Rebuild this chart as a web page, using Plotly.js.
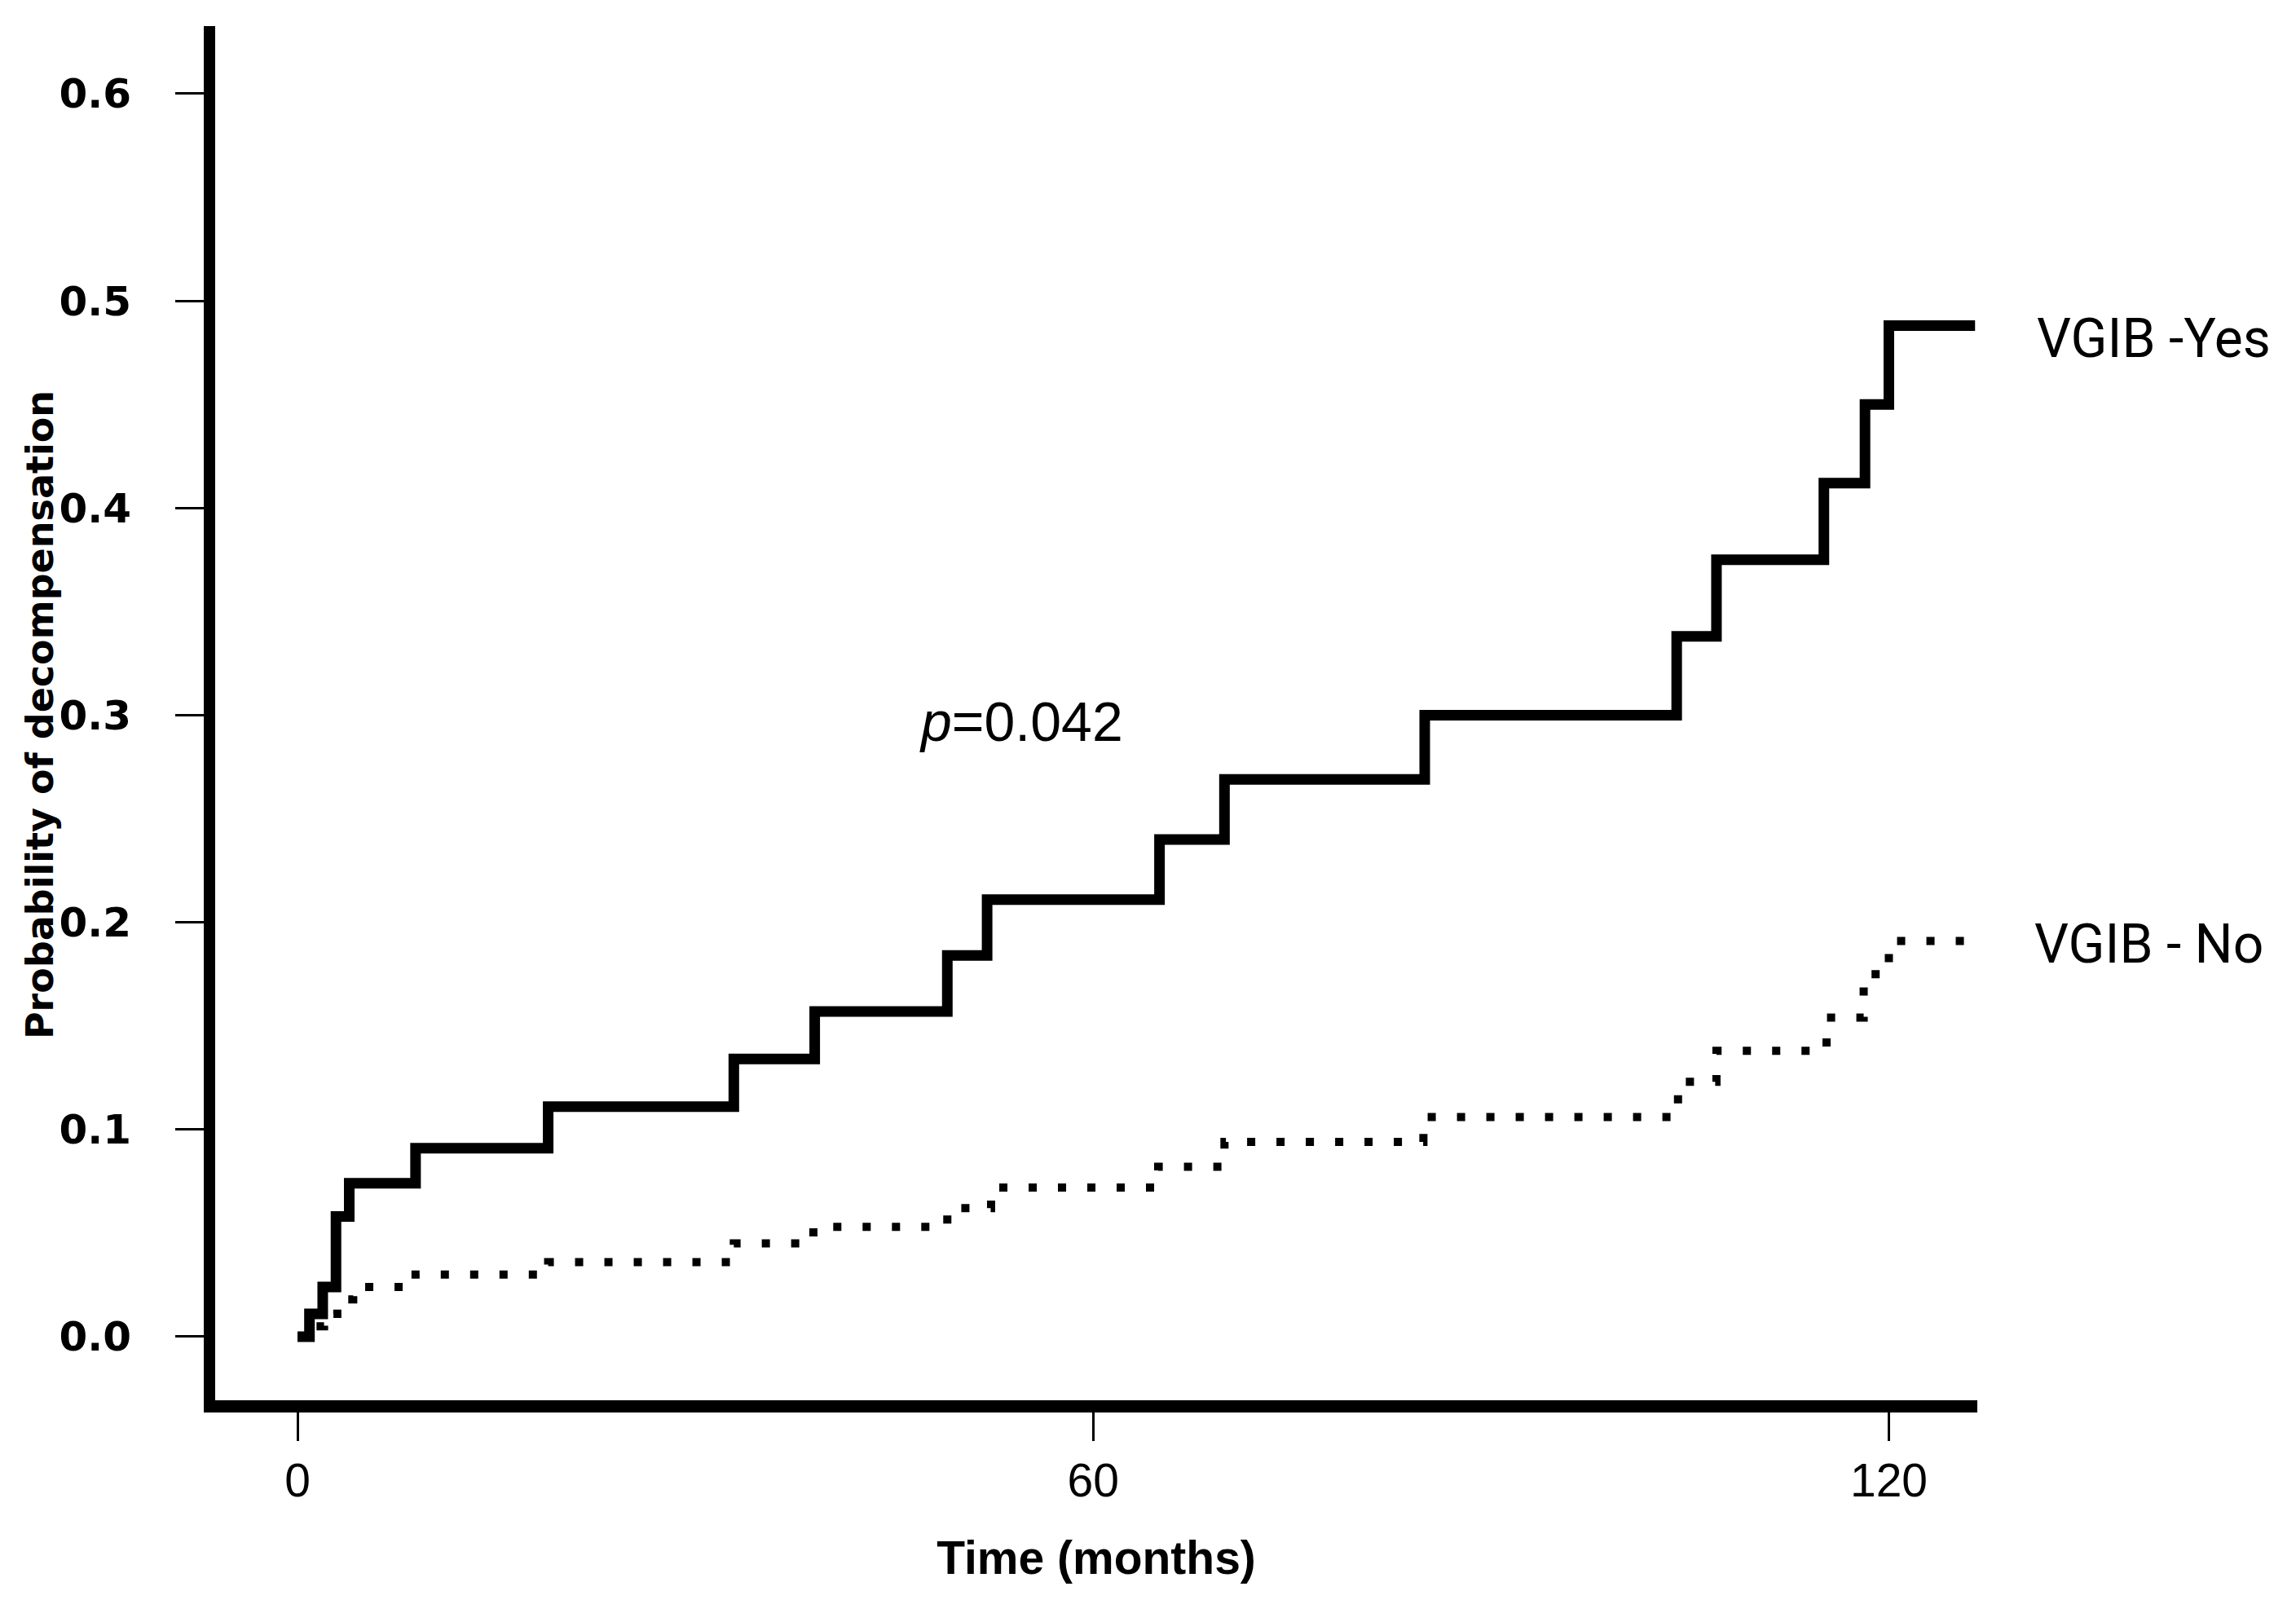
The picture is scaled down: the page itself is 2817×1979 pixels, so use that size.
<!DOCTYPE html>
<html>
<head>
<meta charset="utf-8">
<script src="https://cdn.plot.ly/plotly-3.0.1.min.js"></script>
<style>html,body{margin:0;padding:0;background:#fff;}#chart{width:2817px;height:1979px;}</style>
</head>
<body>
<div id="chart"></div>
<script>
// Kaplan-Meier style cumulative probability of decompensation (months)
const timeYes = [0, 0.9, 1.9, 2.9, 3.9, 8.9, 18.9, 32.9, 39.0, 49.0, 52.0, 65.0, 69.9, 85.0, 104.0, 107.0, 115.1, 118.2, 120.0, 126.5];
const probYes = [0, 0.011, 0.024, 0.058, 0.074, 0.091, 0.111, 0.134, 0.157, 0.184, 0.211, 0.240, 0.269, 0.300, 0.338, 0.375, 0.412, 0.450, 0.488, 0.488];

const timeNo = [0, 1.0, 2.0, 3.0, 4.2, 8.9, 18.9, 32.9, 38.9, 49.0, 52.3, 64.9, 69.9, 84.9, 104.1, 107.0, 115.3, 118.1, 120.0, 126.3];
const probNo = [0, 0.005, 0.011, 0.018, 0.024, 0.030, 0.036, 0.045, 0.053, 0.062, 0.072, 0.082, 0.094, 0.106, 0.123, 0.138, 0.154, 0.175, 0.191, 0.191];

const xTickVals = [0, 60, 120];
const xTickText = ['0', '60', '120'];
const yTickVals = [0, 0.1, 0.2, 0.3, 0.4, 0.5, 0.6];
const yTickText = ['0.0', '0.1', '0.2', '0.3', '0.4', '0.5', '0.6'];

const seriesNames = ['VGIB -Yes', 'VGIB - No'];
const pValueText = '<i>p</i>=0.042';
const yTitleText = 'Probability of decompensation';
const xTitleText = 'Time (months)';

const traces = [
  {
    x: timeYes, y: probYes, name: seriesNames[0], type: 'scatter', mode: 'lines',
    line: {shape: 'hv', color: '#000000', width: 13}
  },
  {
    x: timeNo, y: probNo, name: seriesNames[1], type: 'scatter', mode: 'lines',
    line: {shape: 'hv', color: '#000000', width: 10, dash: '10px,26px'}
  }
];

const labelFont = 'Roboto, Liberation Sans, sans-serif';

const layout = {
  width: 2817, height: 1979,
  paper_bgcolor: '#ffffff', plot_bgcolor: '#ffffff',
  showlegend: false,
  margin: {l: 264, r: 391, t: 32, b: 261, pad: 0},
  xaxis: {
    range: [-6.21, 126.67],
    tickvals: xTickVals, ticktext: xTickText,
    ticks: 'outside', ticklen: 35, tickwidth: 3, tickcolor: '#000',
    showline: true, linewidth: 15, linecolor: '#000',
    showgrid: false, zeroline: false,
    tickfont: {family: 'Liberation Sans, Arial, sans-serif', size: 57, color: '#000'},
    title: {text: xTitleText, font: {family: 'Liberation Sans, Arial, sans-serif', size: 57, color: '#000', weight: 'bold'}, standoff: 50}
  },
  yaxis: {
    range: [-0.0307, 0.6326],
    tickvals: yTickVals, ticktext: yTickText,
    ticks: 'outside', ticklen: 35, tickwidth: 3, tickcolor: '#000',
    showline: true, linewidth: 14, linecolor: '#000',
    showgrid: false, zeroline: false,
    ticklabelstandoff: 44,
    tickfont: {family: 'DejaVu Sans, sans-serif', size: 50, color: '#000', weight: 'bold'}
  },
  annotations: [
    {x: -0.0994, y: 0.4988, xref: 'paper', yref: 'paper', text: yTitleText, textangle: -90, showarrow: false,
     xanchor: 'center', yanchor: 'middle', font: {family: 'DejaVu Sans, sans-serif', size: 46, color: '#000', weight: 'bold'}},
    {x: 54.6, y: 0.297, xref: 'x', yref: 'y', text: pValueText, showarrow: false,
     xanchor: 'center', yanchor: 'middle', font: {family: 'Liberation Sans, Arial, sans-serif', size: 68, color: '#000'}},
    {x: 1.0328, y: 0.7728, xref: 'paper', yref: 'paper', text: seriesNames[0], showarrow: false,
     xanchor: 'left', yanchor: 'middle', font: {family: labelFont, size: 66, color: '#000'}},
    {x: 1.0314, y: 0.3316, xref: 'paper', yref: 'paper', text: seriesNames[1], showarrow: false,
     xanchor: 'left', yanchor: 'middle', font: {family: labelFont, size: 66, color: '#000'}}
  ]
};

Plotly.newPlot('chart', traces, layout, {staticPlot: true, displayModeBar: false});
</script>
</body>
</html>
